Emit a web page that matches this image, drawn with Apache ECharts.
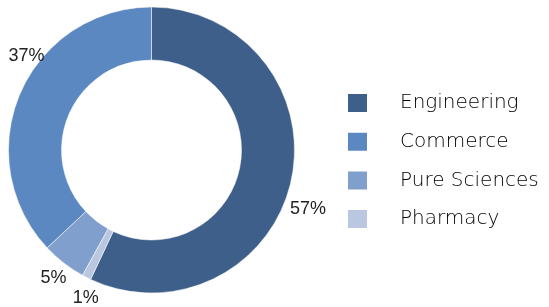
<!DOCTYPE html>
<html>
<head>
<meta charset="utf-8">
<script src="https://cdn.jsdelivr.net/npm/echarts@6/dist/echarts.min.js"></script>
<style>
  html, body { margin: 0; padding: 0; background: #fff; }
  #chart { width: 549px; height: 307px; }
</style>
</head>
<body>
<div id="chart"></div>
<script>
// data (percent of students)
var categories = ['Engineering', 'Commerce', 'Pure Sciences', 'Pharmacy'];
var shares = [57, 37, 5, 1];
var colors = ['#3e5f8a', '#5b88c1', '#809fcc', '#b9c7e0'];

// label nudges, Excel did not put them at the mid angle
var labelShift = [[-10, 27], [33, -36], [10, 12], [19, 17]];

var myChart = echarts.init(document.getElementById('chart'));

var pieData = [];
for (var i = 0; i < categories.length; i++) {
    pieData.push({
        name: categories[i],
        value: shares[i],
        itemStyle: { color: colors[i] }
    });
}

var option = {
    animation: false,
    backgroundColor: '#fff',
    legend: {
        orient: 'vertical',
        left: 341,
        top: 87,
        itemWidth: 21,
        itemHeight: 20,
        itemGap: 16.7,
        icon: 'rect',
        data: categories,
        textStyle: {
            fontFamily: 'DejaVu Sans',
            fontWeight: 200,
            fontSize: 20,
            lineHeight: 20,
            color: '#000',
            padding: [0, 0, 0, 27]
        }
    },
    series: [
        {
            type: 'pie',
            center: [151.5, 150],
            radius: [90, 143],
            startAngle: 244.8,
            clockwise: false,
            avoidLabelOverlap: false,
            itemStyle: { borderColor: '#fff', borderWidth: 0.5 },
            label: {
                show: true,
                position: 'outside',
                formatter: '{c}%',
                fontFamily: 'Liberation Sans',
                fontSize: 18,
                color: '#222'
            },
            labelLine: { show: false, length: 4, length2: 0 },
            labelLayout: function (params) {
                var s = labelShift[params.dataIndex];
                return { dx: s[0], dy: s[1] };
            },
            data: pieData
        }
    ]
};

myChart.setOption(option);
</script>
</body>
</html>
